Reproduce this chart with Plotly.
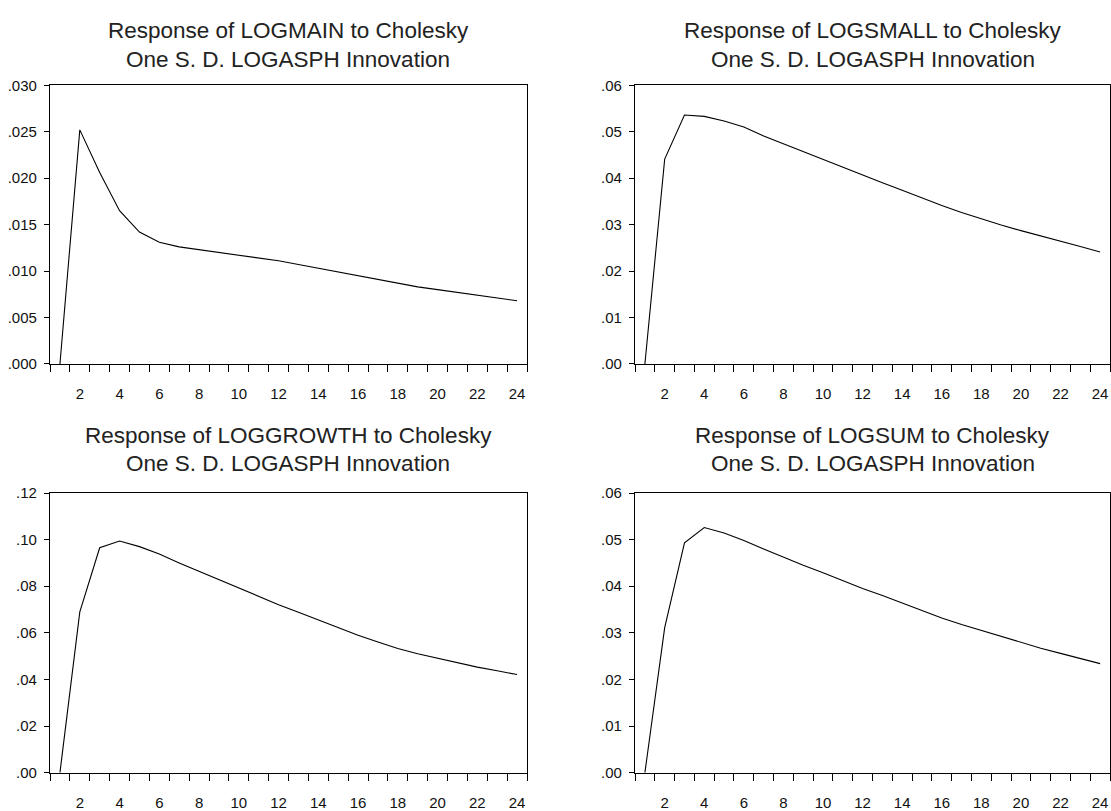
import plotly.graph_objects as go

periods = list(range(1, 25))

logmain = [0.0, 0.0252, 0.0206, 0.0165, 0.0142, 0.0131, 0.0126, 0.0123, 0.0120, 0.0117,
           0.0114, 0.0111, 0.0107, 0.0103, 0.0099, 0.0095, 0.0091, 0.0087, 0.0083, 0.0080,
           0.0077, 0.0074, 0.0071, 0.0068]
logsmall = [0.0, 0.0441, 0.0536, 0.0533, 0.0523, 0.0510, 0.0491, 0.0474, 0.0457, 0.0440,
            0.0423, 0.0407, 0.0390, 0.0374, 0.0357, 0.0341, 0.0326, 0.0312, 0.0299, 0.0287,
            0.0276, 0.0265, 0.0253, 0.0241]
loggrowth = [0.0, 0.0690, 0.0965, 0.0994, 0.0970, 0.0938, 0.0900, 0.0864, 0.0826, 0.0791,
             0.0755, 0.0721, 0.0688, 0.0655, 0.0622, 0.0590, 0.0561, 0.0533, 0.0510, 0.0491,
             0.0471, 0.0453, 0.0437, 0.0421]
logsum = [0.0, 0.0311, 0.0493, 0.0526, 0.0514, 0.0498, 0.0480, 0.0462, 0.0445, 0.0429,
          0.0412, 0.0395, 0.0380, 0.0364, 0.0348, 0.0332, 0.0318, 0.0305, 0.0292, 0.0279,
          0.0267, 0.0256, 0.0245, 0.0234]

titles = [
    ("Response of LOGMAIN to Cholesky", "One S. D. LOGASPH Innovation"),
    ("Response of LOGSMALL to Cholesky", "One S. D. LOGASPH Innovation"),
    ("Response of LOGGROWTH to Cholesky", "One S. D. LOGASPH Innovation"),
    ("Response of LOGSUM to Cholesky", "One S. D. LOGASPH Innovation"),
]

xtick_vals = list(range(2, 25, 2))
xtick_text = [str(v) for v in xtick_vals]
xminor_vals = [v + 0.5 for v in range(0, 25)]

ytick_main = [0.0, 0.005, 0.010, 0.015, 0.020, 0.025, 0.030]
ytext_main = [".000", ".005", ".010", ".015", ".020", ".025", ".030"]
ytick_small = [0.0, 0.01, 0.02, 0.03, 0.04, 0.05, 0.06]
ytext_small = [".00", ".01", ".02", ".03", ".04", ".05", ".06"]
ytick_growth = [0.0, 0.02, 0.04, 0.06, 0.08, 0.10, 0.12]
ytext_growth = [".00", ".02", ".04", ".06", ".08", ".10", ".12"]

series = [logmain, logsmall, loggrowth, logsum]
yticks = [(ytick_main, ytext_main, 0.030), (ytick_small, ytext_small, 0.06),
          (ytick_growth, ytext_growth, 0.12), (ytick_small, ytext_small, 0.06)]

W, H = 1111, 811
# pixel boxes (left, right, top, bottom)
boxes = [(50, 527, 78, 363), (635, 1110, 78, 363), (50, 527, 495, 781), (635, 1110, 495, 781)]
title_y = [(22, 52), (22, 52), (436, 465), (436, 465)]

FONT = "Liberation Sans, Arial, Helvetica, sans-serif"

fig = go.Figure()
layout = dict(
    width=W, height=H, margin=dict(l=0, r=0, t=0, b=0),
    paper_bgcolor="white", plot_bgcolor="white", showlegend=False,
    font=dict(family=FONT, color="black"),
)
annotations = []
for i, (ys, (tv, tt, ymax), box, ttl, ty) in enumerate(zip(series, yticks, boxes, titles, title_y)):
    n = i + 1
    xa = "x" if n == 1 else f"x{n}"
    ya = "y" if n == 1 else f"y{n}"
    fig.add_trace(go.Scatter(x=periods, y=ys, mode="lines", xaxis=xa, yaxis=ya,
                             line=dict(color="black", width=1.1), hoverinfo="skip"))
    l, r, t, b = box
    layout[f"xaxis{'' if n == 1 else n}"] = dict(
        domain=[l / W, r / W], range=[0.5, 24.5], anchor=ya,
        tickvals=xtick_vals, ticktext=xtick_text, ticks="", ticklabelstandoff=16,
        showgrid=False, zeroline=False, showline=True, linecolor="black", linewidth=1.2,
        mirror=True, tickfont=dict(size=15, family=FONT, color="#111111"),
        minor=dict(tickvals=xminor_vals, ticks="outside", ticklen=7, tickcolor="black",
                   tickwidth=1.2, showgrid=False),
    )
    layout[f"yaxis{'' if n == 1 else n}"] = dict(
        domain=[1 - b / H, 1 - t / H], range=[0, ymax], anchor=xa,
        tickvals=tv, ticktext=tt, ticks="outside", ticklen=5, tickcolor="black",
        tickwidth=1.2, ticklabelstandoff=4,
        showgrid=False, zeroline=False, showline=True, linecolor="black", linewidth=1.2,
        mirror=True, tickfont=dict(size=15, family=FONT, color="#111111"),
    )
    cx = (l + r) / 2 / W
    for line, yy in zip(ttl, ty):
        annotations.append(dict(text=line, x=cx, y=1 - yy / H, xref="paper", yref="paper",
                                xanchor="center", yanchor="middle", showarrow=False,
                                font=dict(size=22.5, family=FONT, color="#222222")))
layout["annotations"] = annotations
fig.update_layout(**layout)
fig.write_html("out.html")
